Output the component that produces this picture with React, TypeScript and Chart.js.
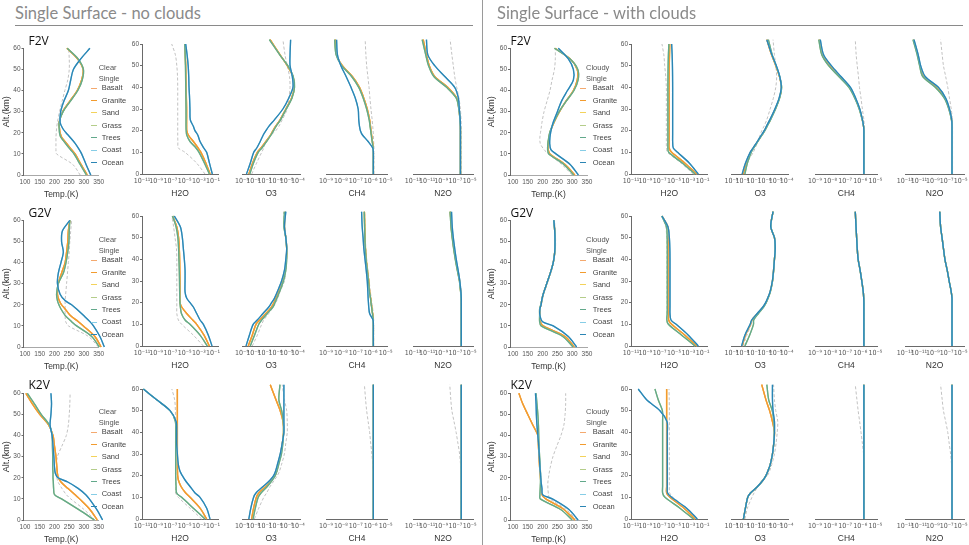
import React, { useEffect, useRef } from 'react';
import { Chart, registerables } from 'chart.js';
Chart.register(...registerables);

// ---------------- categories / labels ----------------
const SURFACES = ['Basalt', 'Granite', 'Sand', 'Grass', 'Trees', 'Coast', 'Ocean'];
const SURFACE_COLORS = ['#F4A96E', '#F29B2E', '#F3D25A', '#B4CD8A', '#62A98B', '#86CDE6', '#2B85B4'];
const SURFACE_GROUP = ['land', 'land', 'land', 'veg', 'veg', 'water', 'water'];
// painting order (lower = painted on top)
const SURFACE_ORDER = [6, 5, 7, 4, 3, 2, 1];
const STARS = ['F2V', 'G2V', 'K2V'];
const QUANTITIES = ['Temp.(K)', 'H2O', 'O3', 'CH4', 'N2O'];
const PANEL_TITLES = ['Single Surface - no clouds', 'Single Surface - with clouds'];
const LEGEND_TITLES = ['Clear', 'Cloudy'];
const LEGEND_SUBTITLE = 'Single';
const Y_TITLE = 'Alt.(km)';

// ---------------- tick labels ----------------
const TEMP_TICKS = [100, 150, 200, 250, 300, 350];
const ALT_TICKS = [0, 10, 20, 30, 40, 50, 60];
const H2O_TICKS = [-11, -9, -7, -5, -3, -1];
const O3_TICKS = [-9, -8, -7, -6, -5, -4];
const CH4_TICKS = [-9, -8, -7, -6, -5];
const N2O_TICKS = [-13, -11, -9, -7, -5];

// ---------------- altitude grids (km) ----------------
const ALT = [0, 5, 10, 12, 15, 18, 20, 22, 25, 30, 35, 40, 45, 50, 55, 60];
const ALT_HI = [0, 5, 10, 12, 15, 18, 20, 22, 25, 30, 35, 40, 45, 50, 55, 62];

// ======== CLEAR (left) ========
// F2V clear — temperature (K)
const F2V_CLR_T_LAND = [311, 290, 270, 258, 241, 224, 219, 217, 216, 228, 252, 277, 292, 297, 278, 242];
const F2V_CLR_T_VEG = [308, 287, 266, 254, 237, 221, 217, 216, 216, 229, 254, 279, 294, 298, 280, 243];
const F2V_CLR_T_WATER = [323, 307, 292, 284, 270, 252, 239, 228, 219, 221, 232, 247, 255, 264, 289, 320];
const F2V_CLR_T_REF = [287, 262, 207, 205, 205, 205, 206, 207, 210, 217, 226, 235, 245, 250, 250, 248];
// F2V clear — log10 mixing ratios
const F2V_CLR_H2O_LAND = [-1.42, -2.0, -2.7, -3.1, -3.77, -4.48, -4.7, -4.72, -4.72, -4.72, -4.75, -4.78, -4.82, -4.85, -4.9, -4.95];
const F2V_CLR_H2O_VEG = [-1.52, -2.2, -2.97, -3.4, -4.24, -4.7, -4.78, -4.8, -4.8, -4.8, -4.82, -4.84, -4.86, -4.88, -4.92, -4.97];
const F2V_CLR_H2O_WATER = [-1.1, -1.5, -1.9, -2.3, -2.83, -3.15, -3.54, -3.77, -4.2, -4.25, -4.3, -4.38, -4.42, -4.5, -4.65, -4.85];
const F2V_CLR_H2O_REF = [-2.13, -3.3, -4.94, -5.88, -5.95, -5.97, -5.97, -5.97, -5.97, -5.97, -5.97, -5.97, -6.0, -6.1, -6.3, -6.82];
const F2V_CLR_O3_LAND = [-8.39, -8.06, -7.63, -7.3, -6.86, -6.45, -6.23, -6.0, -5.59, -5.08, -4.57, -4.32, -4.44, -4.95, -5.59, -6.48];
const F2V_CLR_O3_VEG = [-8.3, -7.98, -7.55, -7.22, -6.8, -6.4, -6.18, -5.95, -5.55, -5.04, -4.53, -4.3, -4.42, -4.9, -5.62, -6.55];
const F2V_CLR_O3_WATER = [-8.6, -8.26, -7.95, -7.68, -7.37, -7.1, -6.86, -6.6, -6.1, -5.34, -4.82, -4.44, -4.5, -4.7, -4.7, -4.65];
const F2V_CLR_O3_REF = [-8.13, -7.7, -7.24, -7.05, -6.86, -6.4, -5.97, -5.7, -5.4, -4.95, -4.8, -4.7, -4.75, -4.95, -5.15, -5.34];
const F2V_CLR_CH4_LAND = [-5.82, -5.82, -5.82, -5.83, -5.88, -5.94, -5.98, -6.01, -6.07, -6.23, -6.46, -6.75, -7.23, -7.9, -8.29, -8.38];
const F2V_CLR_CH4_VEG = [-5.82, -5.82, -5.82, -5.83, -5.9, -5.96, -6.0, -6.04, -6.1, -6.27, -6.5, -6.8, -7.28, -7.95, -8.32, -8.42];
const F2V_CLR_CH4_WATER = [-5.82, -5.82, -5.82, -5.86, -6.17, -6.55, -6.69, -6.75, -6.8, -6.84, -7.03, -7.32, -7.65, -8.0, -8.23, -8.29];
const F2V_CLR_CH4_REF = [-5.78, -5.78, -5.78, -5.78, -5.8, -5.82, -5.84, -5.86, -5.9, -5.98, -6.05, -6.11, -6.19, -6.27, -6.32, -6.37];
const F2V_CLR_N2O_LAND = [-6.29, -6.29, -6.29, -6.29, -6.29, -6.29, -6.29, -6.3, -6.35, -6.5, -6.82, -8.1, -9.93, -10.7, -11.1, -11.55];
const F2V_CLR_N2O_VEG = [-6.29, -6.29, -6.29, -6.29, -6.29, -6.29, -6.29, -6.3, -6.36, -6.52, -6.88, -8.25, -10.05, -10.8, -11.2, -11.7];
const F2V_CLR_N2O_WATER = [-6.29, -6.29, -6.29, -6.29, -6.29, -6.29, -6.29, -6.29, -6.32, -6.45, -6.58, -7.1, -8.5, -9.93, -10.9, -11.1];
const F2V_CLR_N2O_REF = [-6.17, -6.17, -6.17, -6.17, -6.17, -6.17, -6.17, -6.18, -6.2, -6.3, -6.5, -6.82, -7.1, -7.3, -7.5, -7.75];

// G2V clear
const G2V_CLR_T_LAND = [358, 337, 298, 281, 253, 236, 224, 216, 210, 213, 224, 236, 241, 245, 247, 252];
const G2V_CLR_T_VEG = [352, 326, 275, 258, 236, 222, 215, 210, 207, 213, 230, 239, 245, 249, 250, 252];
const G2V_CLR_T_WATER = [369, 354, 332, 320, 298, 275, 258, 236, 219, 210, 213, 222, 230, 224, 227, 252];
const G2V_CLR_T_REF = [349, 315, 247, 238, 236, 236, 236, 236, 238, 241, 244, 247, 250, 252, 255, 258];
const G2V_CLR_H2O_LAND = [-1.52, -2.27, -3.3, -3.86, -4.71, -5.41, -5.65, -5.65, -5.65, -5.65, -5.68, -5.7, -5.75, -5.85, -6.1, -6.68];
const G2V_CLR_H2O_VEG = [-1.8, -2.83, -4.24, -4.94, -5.45, -5.6, -5.65, -5.68, -5.7, -5.72, -5.75, -5.8, -5.85, -5.95, -6.2, -6.7];
const G2V_CLR_H2O_WATER = [-1.14, -1.66, -2.36, -2.83, -3.3, -3.77, -4.24, -4.7, -4.94, -4.94, -4.94, -5.04, -5.18, -5.32, -5.6, -6.45];
const G2V_CLR_H2O_REF = [-2.36, -3.77, -5.41, -5.88, -6.1, -6.1, -6.1, -6.1, -6.1, -6.1, -6.1, -6.1, -6.15, -6.35, -6.55, -6.8];
const G2V_CLR_O3_LAND = [-8.44, -8.08, -7.75, -7.42, -6.86, -6.35, -6.15, -5.98, -5.72, -5.34, -5.13, -5.03, -5.0, -5.08, -5.2, -5.13];
const G2V_CLR_O3_VEG = [-8.26, -7.88, -7.5, -7.24, -6.74, -6.23, -6.05, -5.88, -5.64, -5.29, -5.08, -5.0, -5.0, -5.08, -5.25, -5.2];
const G2V_CLR_O3_WATER = [-8.64, -8.34, -8.0, -7.63, -7.12, -6.6, -6.35, -6.1, -5.84, -5.46, -5.2, -5.08, -5.0, -5.08, -5.2, -5.08];
const G2V_CLR_O3_REF = [-8.08, -7.63, -7.24, -7.05, -6.6, -6.2, -5.97, -5.8, -5.6, -5.2, -5.08, -5.0, -5.0, -5.03, -5.2, -5.28];
const G2V_CLR_CH4_LAND = [-5.82, -5.82, -5.82, -5.83, -5.87, -5.93, -5.97, -6.0, -6.07, -6.13, -6.22, -6.3, -6.35, -6.38, -6.4, -6.42];
const G2V_CLR_CH4_VEG = [-5.82, -5.82, -5.82, -5.83, -5.88, -5.94, -5.98, -6.01, -6.08, -6.15, -6.23, -6.31, -6.36, -6.39, -6.41, -6.43];
const G2V_CLR_CH4_WATER = [-5.82, -5.82, -5.82, -5.84, -6.07, -6.13, -6.15, -6.17, -6.19, -6.23, -6.3, -6.38, -6.46, -6.51, -6.57, -6.61];
const G2V_CLR_CH4_REF = [-5.8, -5.8, -5.8, -5.8, -5.83, -5.88, -5.92, -5.96, -6.02, -6.1, -6.18, -6.26, -6.32, -6.36, -6.38, -6.4];
const G2V_CLR_N2O_LAND = [-6.17, -6.17, -6.17, -6.17, -6.17, -6.17, -6.17, -6.18, -6.25, -6.41, -6.7, -6.98, -7.22, -7.42, -7.59, -7.72];
const G2V_CLR_N2O_VEG = [-6.17, -6.17, -6.17, -6.17, -6.17, -6.17, -6.17, -6.19, -6.27, -6.44, -6.74, -7.02, -7.26, -7.46, -7.62, -7.76];
const G2V_CLR_N2O_WATER = [-6.17, -6.17, -6.17, -6.17, -6.17, -6.17, -6.17, -6.17, -6.22, -6.38, -6.62, -6.88, -7.1, -7.3, -7.45, -7.55];
const G2V_CLR_N2O_REF = [-6.15, -6.15, -6.15, -6.15, -6.15, -6.15, -6.15, -6.15, -6.2, -6.35, -6.6, -6.9, -7.15, -7.35, -7.5, -7.65];

// K2V clear
const K2V_CLR_T_LAND = [345, 320, 285, 270, 245, 222, 213, 210, 208, 205, 200, 195, 180, 150, 125, 103];
const K2V_CLR_T_VEG = [335, 281, 224, 200, 197, 196, 195, 195, 194, 194, 193, 192, 183, 155, 132, 108];
const K2V_CLR_T_WATER = [363, 343, 318, 306, 280, 245, 212, 203, 200, 198, 195, 192, 185, 188, 190, 188];
const K2V_CLR_T_REF = [337, 300, 255, 240, 225, 212, 208, 207, 206, 210, 225, 240, 247, 250, 252, 253];
const K2V_CLR_H2O_LAND = [-1.89, -2.83, -4.24, -4.85, -5.51, -5.88, -5.98, -6.0, -6.02, -6.02, -6.02, -6.02, -6.02, -6.02, -6.02, -6.02];
const K2V_CLR_H2O_VEG = [-2.13, -3.77, -5.42, -6.12, -6.2, -6.24, -6.26, -6.26, -6.26, -6.26, -6.26, -6.26, -6.3, -7.05, -8.93, -10.8];
const K2V_CLR_H2O_WATER = [-1.42, -1.89, -2.83, -3.53, -4.24, -4.94, -5.32, -5.65, -5.88, -6.02, -6.12, -6.12, -6.2, -7.05, -8.93, -10.8];
const K2V_CLR_H2O_REF = [-2.6, -4.24, -5.88, -6.26, -6.26, -6.26, -6.26, -6.26, -6.26, -6.26, -6.26, -6.26, -6.28, -6.3, -6.4, -6.8];
const K2V_CLR_O3_LAND = [-8.14, -7.96, -7.71, -7.5, -6.87, -6.36, -6.05, -5.9, -5.77, -5.55, -5.39, -5.28, -5.33, -5.58, -5.96, -6.47];
const K2V_CLR_O3_VEG = [-8.01, -7.81, -7.55, -7.3, -6.74, -6.28, -6.03, -5.88, -5.72, -5.47, -5.34, -5.28, -5.3, -5.45, -5.7, -5.6];
const K2V_CLR_O3_WATER = [-8.39, -8.21, -7.96, -7.75, -7.11, -6.48, -6.17, -6.0, -5.84, -5.58, -5.4, -5.25, -5.25, -5.25, -5.25, -5.25];
const K2V_CLR_O3_REF = [-7.89, -7.5, -7.05, -6.8, -6.48, -6.1, -5.84, -5.65, -5.47, -5.21, -5.08, -4.95, -4.95, -5.0, -5.2, -5.4];
const K2V_CLR_CH4_ALL = [-5.82, -5.82, -5.82, -5.82, -5.82, -5.82, -5.82, -5.82, -5.82, -5.82, -5.82, -5.82, -5.82, -5.82, -5.82, -5.82];
const K2V_CLR_CH4_REF = [-5.82, -5.82, -5.82, -5.82, -5.82, -5.82, -5.82, -5.83, -5.86, -5.92, -6.0, -6.07, -6.17, -6.27, -6.34, -6.42];
const K2V_CLR_N2O_ALL = [-6.17, -6.17, -6.17, -6.17, -6.17, -6.17, -6.17, -6.17, -6.17, -6.17, -6.17, -6.17, -6.17, -6.17, -6.17, -6.17];
const K2V_CLR_N2O_REF = [-6.17, -6.17, -6.17, -6.17, -6.17, -6.17, -6.17, -6.2, -6.27, -6.41, -6.65, -6.9, -7.2, -7.5, -7.65, -7.8];

// ======== CLOUDY (right) ========
// F2V cloudy
const F2V_CLD_T_LAND = [309, 276, 225, 219, 219, 222, 225, 230, 239, 257, 279, 304, 317, 317, 293, 242];
const F2V_CLD_T_VEG = [305, 272, 221, 217, 218, 221, 224, 229, 238, 256, 280, 306, 320, 319, 292, 240];
const F2V_CLD_T_WATER = [321, 293, 245, 228, 224, 225, 227, 230, 236, 250, 264, 284, 304, 304, 287, 253];
const F2V_CLD_T_REF = [300, 265, 220, 205, 192, 191, 193, 195, 198, 205, 215, 225, 232, 240, 243, 243];
const F2V_CLD_H2O_LAND = [-1.84, -3.47, -5.33, -5.68, -5.68, -5.68, -5.68, -5.68, -5.68, -5.68, -5.68, -5.68, -5.67, -5.66, -5.63, -5.6];
const F2V_CLD_H2O_VEG = [-2.07, -3.8, -5.75, -5.85, -5.85, -5.85, -5.85, -5.85, -5.85, -5.85, -5.85, -5.85, -5.84, -5.82, -5.78, -5.72];
const F2V_CLD_H2O_WATER = [-1.61, -2.85, -4.5, -5.1, -5.19, -5.19, -5.19, -5.19, -5.19, -5.19, -5.19, -5.19, -5.2, -5.22, -5.26, -5.33];
const F2V_CLD_H2O_REF = [-2.3, -4.0, -5.9, -6.05, -6.07, -6.07, -6.07, -6.07, -6.07, -6.07, -6.07, -6.07, -6.15, -6.3, -6.42, -6.68];
const F2V_CLD_O3_LAND = [-7.91, -7.65, -7.27, -7.02, -6.63, -6.25, -6.0, -5.8, -5.49, -5.03, -4.65, -4.47, -4.65, -4.98, -5.36, -5.79];
const F2V_CLD_O3_VEG = [-7.78, -7.55, -7.2, -6.98, -6.6, -6.22, -5.97, -5.77, -5.46, -5.0, -4.63, -4.45, -4.63, -4.95, -5.3, -5.65];
const F2V_CLD_O3_WATER = [-8.03, -7.73, -7.3, -7.04, -6.65, -6.28, -6.03, -5.83, -5.52, -5.06, -4.68, -4.48, -4.62, -4.93, -5.33, -5.79];
const F2V_CLD_O3_REF = [-7.95, -7.6, -7.02, -6.85, -6.6, -6.4, -6.25, -6.05, -5.8, -5.49, -5.2, -4.98, -4.9, -4.98, -5.1, -5.23];
const F2V_CLD_CH4_LAND = [-5.76, -5.76, -5.76, -5.76, -5.76, -5.76, -5.76, -5.78, -5.86, -6.05, -6.33, -6.71, -7.38, -8.05, -8.52, -8.71];
const F2V_CLD_CH4_VEG = [-5.76, -5.76, -5.76, -5.76, -5.76, -5.76, -5.76, -5.78, -5.87, -6.07, -6.36, -6.75, -7.42, -8.1, -8.55, -8.75];
const F2V_CLD_CH4_WATER = [-5.76, -5.76, -5.76, -5.76, -5.76, -5.76, -5.76, -5.78, -5.85, -6.03, -6.3, -6.65, -7.28, -7.92, -8.43, -8.65];
const F2V_CLD_CH4_REF = [-5.73, -5.73, -5.73, -5.73, -5.73, -5.73, -5.73, -5.74, -5.76, -5.86, -5.95, -6.05, -6.12, -6.2, -6.27, -6.33];
const F2V_CLD_N2O_LAND = [-6.24, -6.24, -6.24, -6.24, -6.24, -6.24, -6.24, -6.24, -6.3, -6.65, -7.26, -8.5, -10.34, -10.83, -11.16, -11.77];
const F2V_CLD_N2O_VEG = [-6.24, -6.24, -6.24, -6.24, -6.24, -6.24, -6.24, -6.24, -6.32, -6.7, -7.35, -8.65, -10.45, -10.9, -11.25, -11.85];
const F2V_CLD_N2O_WATER = [-6.24, -6.24, -6.24, -6.24, -6.24, -6.24, -6.24, -6.24, -6.28, -6.6, -7.15, -8.2, -10.1, -10.75, -11.1, -11.7];
const F2V_CLD_N2O_REF = [-6.16, -6.16, -6.16, -6.16, -6.16, -6.16, -6.16, -6.16, -6.18, -6.35, -6.6, -6.85, -7.15, -7.47, -7.65, -7.88];

// G2V cloudy
const G2V_CLD_T_LAND = [307, 276, 202, 192, 191, 191, 195, 197, 202, 214, 226, 236, 241, 242, 241, 238];
const G2V_CLD_T_VEG = [303, 268, 195, 190, 190, 190, 194, 197, 202, 214, 226, 236, 241, 242, 241, 238];
const G2V_CLD_T_WATER = [315, 287, 236, 200, 191, 191, 195, 197, 202, 214, 226, 236, 241, 242, 241, 238];
const G2V_CLD_T_REF = [305, 270, 205, 194, 191, 191, 196, 199, 204, 216, 228, 238, 243, 244, 243, 240];
const G2V_CLD_H2O_LAND = [-1.84, -3.47, -5.33, -5.75, -5.72, -5.7, -5.7, -5.7, -5.7, -5.7, -5.7, -5.7, -5.7, -5.72, -5.85, -6.68];
const G2V_CLD_H2O_VEG = [-2.07, -3.93, -5.79, -6.0, -5.95, -5.93, -5.93, -5.93, -5.93, -5.93, -5.93, -5.93, -5.93, -5.95, -6.05, -6.7];
const G2V_CLD_H2O_WATER = [-1.61, -3.0, -4.7, -5.42, -5.56, -5.56, -5.56, -5.56, -5.56, -5.56, -5.56, -5.56, -5.58, -5.65, -5.85, -6.68];
const G2V_CLD_H2O_REF = [-2.1, -3.95, -5.8, -6.0, -6.0, -6.0, -6.0, -6.0, -6.0, -6.0, -6.0, -6.0, -6.0, -6.02, -6.15, -6.7];
const G2V_CLD_O3_LAND = [-8.03, -7.73, -7.27, -7.14, -6.63, -6.12, -5.87, -5.7, -5.49, -5.28, -5.18, -5.1, -5.03, -5.1, -5.44, -5.23];
const G2V_CLD_O3_VEG = [-7.78, -7.35, -7.0, -6.98, -6.55, -6.08, -5.85, -5.68, -5.47, -5.27, -5.17, -5.1, -5.03, -5.1, -5.42, -5.23];
const G2V_CLD_O3_WATER = [-8.08, -7.78, -7.3, -7.16, -6.66, -6.15, -5.9, -5.72, -5.5, -5.29, -5.18, -5.1, -5.03, -5.1, -5.44, -5.23];
const G2V_CLD_O3_REF = [-7.95, -7.6, -7.2, -7.08, -6.6, -6.1, -5.85, -5.68, -5.47, -5.26, -5.15, -5.08, -5.02, -5.08, -5.4, -5.2];
const G2V_CLD_CH4_ALL = [-5.76, -5.76, -5.76, -5.76, -5.76, -5.76, -5.76, -5.77, -5.8, -5.9, -6.01, -6.14, -6.2, -6.24, -6.28, -6.33];
const G2V_CLD_CH4_REF = [-5.74, -5.74, -5.74, -5.74, -5.74, -5.74, -5.74, -5.75, -5.78, -5.88, -5.99, -6.12, -6.18, -6.22, -6.26, -6.3];
const G2V_CLD_N2O_ALL = [-6.24, -6.24, -6.24, -6.24, -6.24, -6.24, -6.24, -6.24, -6.35, -6.65, -6.93, -7.26, -7.47, -7.67, -7.88, -8.0];
const G2V_CLD_N2O_REF = [-6.22, -6.22, -6.22, -6.22, -6.22, -6.22, -6.22, -6.22, -6.33, -6.62, -6.9, -7.22, -7.43, -7.63, -7.83, -7.95];

// K2V cloudy
const K2V_CLD_T_LAND = [309, 272, 211, 198, 196, 194, 193, 192, 190, 188, 186, 184, 167, 150, 133, 120];
const K2V_CLD_T_VEG = [300, 261, 192, 191, 192, 193, 193, 193, 192, 190, 188, 187, 186, 184, 181, 178];
const K2V_CLD_T_WATER = [320, 289, 233, 200, 198, 195, 194, 193, 191, 189, 187, 184, 181, 179, 178, 176];
const K2V_CLD_T_REF = [315, 280, 225, 220, 218, 218, 220, 222, 226, 235, 248, 262, 272, 276, 278, 278];
const K2V_CLD_H2O_LAND = [-2.07, -3.6, -5.56, -6.03, -6.03, -6.03, -6.03, -6.03, -6.03, -6.03, -6.03, -6.03, -6.03, -6.03, -6.03, -6.03];
const K2V_CLD_H2O_VEG = [-2.3, -4.17, -6.26, -6.59, -6.59, -6.59, -6.59, -6.59, -6.59, -6.59, -6.59, -6.59, -6.59, -6.62, -7.2, -7.66];
const K2V_CLD_H2O_WATER = [-1.75, -3.24, -5.33, -5.9, -5.93, -5.93, -5.93, -5.93, -5.93, -5.93, -5.93, -5.93, -5.98, -6.96, -8.82, -9.99];
const K2V_CLD_H2O_REF = [-1.9, -3.4, -5.1, -5.6, -5.65, -5.65, -5.65, -5.65, -5.65, -5.65, -5.65, -5.65, -5.65, -5.65, -5.67, -5.7];
const K2V_CLD_O3_LAND = [-7.91, -7.73, -7.52, -7.27, -6.63, -6.12, -5.87, -5.7, -5.49, -5.28, -5.16, -5.1, -5.28, -5.54, -5.87, -6.25];
const K2V_CLD_O3_VEG = [-7.91, -7.73, -7.52, -7.27, -6.63, -6.12, -5.87, -5.7, -5.49, -5.28, -5.16, -5.1, -5.15, -5.3, -5.62, -5.79];
const K2V_CLD_O3_WATER = [-7.91, -7.73, -7.52, -7.27, -6.63, -6.12, -5.87, -5.7, -5.49, -5.28, -5.16, -5.1, -5.1, -5.23, -5.28, -5.28];
const K2V_CLD_O3_REF = [-7.78, -7.55, -7.14, -6.95, -6.6, -6.2, -5.74, -5.55, -5.35, -5.1, -4.95, -4.85, -4.8, -4.98, -5.1, -5.18];
const K2V_CLD_CH4_ALL = [-5.76, -5.76, -5.76, -5.76, -5.76, -5.76, -5.76, -5.76, -5.76, -5.76, -5.76, -5.76, -5.76, -5.76, -5.76, -5.76];
const K2V_CLD_CH4_REF = [-5.76, -5.76, -5.76, -5.76, -5.76, -5.76, -5.76, -5.76, -5.76, -5.78, -5.86, -5.95, -6.04, -6.14, -6.22, -6.33];
const K2V_CLD_N2O_ALL = [-6.24, -6.24, -6.24, -6.24, -6.24, -6.24, -6.24, -6.24, -6.24, -6.24, -6.24, -6.24, -6.24, -6.24, -6.24, -6.24];
const K2V_CLD_N2O_REF = [-6.24, -6.24, -6.24, -6.24, -6.24, -6.24, -6.24, -6.24, -6.3, -6.44, -6.65, -6.85, -7.15, -7.47, -7.65, -7.88];

// ---------------- table built from the arrays ----------------
const P = (land, veg, water, ref) => ({ land, veg, water, ref });
const PROFILES = [
  [
    [P(F2V_CLR_T_LAND, F2V_CLR_T_VEG, F2V_CLR_T_WATER, F2V_CLR_T_REF), P(F2V_CLR_H2O_LAND, F2V_CLR_H2O_VEG, F2V_CLR_H2O_WATER, F2V_CLR_H2O_REF), P(F2V_CLR_O3_LAND, F2V_CLR_O3_VEG, F2V_CLR_O3_WATER, F2V_CLR_O3_REF), P(F2V_CLR_CH4_LAND, F2V_CLR_CH4_VEG, F2V_CLR_CH4_WATER, F2V_CLR_CH4_REF), P(F2V_CLR_N2O_LAND, F2V_CLR_N2O_VEG, F2V_CLR_N2O_WATER, F2V_CLR_N2O_REF)],
    [P(G2V_CLR_T_LAND, G2V_CLR_T_VEG, G2V_CLR_T_WATER, G2V_CLR_T_REF), P(G2V_CLR_H2O_LAND, G2V_CLR_H2O_VEG, G2V_CLR_H2O_WATER, G2V_CLR_H2O_REF), P(G2V_CLR_O3_LAND, G2V_CLR_O3_VEG, G2V_CLR_O3_WATER, G2V_CLR_O3_REF), P(G2V_CLR_CH4_LAND, G2V_CLR_CH4_VEG, G2V_CLR_CH4_WATER, G2V_CLR_CH4_REF), P(G2V_CLR_N2O_LAND, G2V_CLR_N2O_VEG, G2V_CLR_N2O_WATER, G2V_CLR_N2O_REF)],
    [P(K2V_CLR_T_LAND, K2V_CLR_T_VEG, K2V_CLR_T_WATER, K2V_CLR_T_REF), P(K2V_CLR_H2O_LAND, K2V_CLR_H2O_VEG, K2V_CLR_H2O_WATER, K2V_CLR_H2O_REF), P(K2V_CLR_O3_LAND, K2V_CLR_O3_VEG, K2V_CLR_O3_WATER, K2V_CLR_O3_REF), P(K2V_CLR_CH4_ALL, K2V_CLR_CH4_ALL, K2V_CLR_CH4_ALL, K2V_CLR_CH4_REF), P(K2V_CLR_N2O_ALL, K2V_CLR_N2O_ALL, K2V_CLR_N2O_ALL, K2V_CLR_N2O_REF)],
  ],
  [
    [P(F2V_CLD_T_LAND, F2V_CLD_T_VEG, F2V_CLD_T_WATER, F2V_CLD_T_REF), P(F2V_CLD_H2O_LAND, F2V_CLD_H2O_VEG, F2V_CLD_H2O_WATER, F2V_CLD_H2O_REF), P(F2V_CLD_O3_LAND, F2V_CLD_O3_VEG, F2V_CLD_O3_WATER, F2V_CLD_O3_REF), P(F2V_CLD_CH4_LAND, F2V_CLD_CH4_VEG, F2V_CLD_CH4_WATER, F2V_CLD_CH4_REF), P(F2V_CLD_N2O_LAND, F2V_CLD_N2O_VEG, F2V_CLD_N2O_WATER, F2V_CLD_N2O_REF)],
    [P(G2V_CLD_T_LAND, G2V_CLD_T_VEG, G2V_CLD_T_WATER, G2V_CLD_T_REF), P(G2V_CLD_H2O_LAND, G2V_CLD_H2O_VEG, G2V_CLD_H2O_WATER, G2V_CLD_H2O_REF), P(G2V_CLD_O3_LAND, G2V_CLD_O3_VEG, G2V_CLD_O3_WATER, G2V_CLD_O3_REF), P(G2V_CLD_CH4_ALL, G2V_CLD_CH4_ALL, G2V_CLD_CH4_ALL, G2V_CLD_CH4_REF), P(G2V_CLD_N2O_ALL, G2V_CLD_N2O_ALL, G2V_CLD_N2O_ALL, G2V_CLD_N2O_REF)],
    [P(K2V_CLD_T_LAND, K2V_CLD_T_VEG, K2V_CLD_T_WATER, K2V_CLD_T_REF), P(K2V_CLD_H2O_LAND, K2V_CLD_H2O_VEG, K2V_CLD_H2O_WATER, K2V_CLD_H2O_REF), P(K2V_CLD_O3_LAND, K2V_CLD_O3_VEG, K2V_CLD_O3_WATER, K2V_CLD_O3_REF), P(K2V_CLD_CH4_ALL, K2V_CLD_CH4_ALL, K2V_CLD_CH4_ALL, K2V_CLD_CH4_REF), P(K2V_CLD_N2O_ALL, K2V_CLD_N2O_ALL, K2V_CLD_N2O_ALL, K2V_CLD_N2O_REF)],
  ],
];

// ---------------- layout ----------------
const FONT = '"Liberation Sans", Arial, sans-serif';
const TICK_FONT = '"DejaVu Sans Condensed", "DejaVu Sans", sans-serif';
const TICK_COLOR = '#555';
const AXIS_COLOR = '#6a6a6a';
const REF_COLOR = '#c2c2c2';
const ROW_TEMP_BOTTOM = [175, 347, 520];
const ROW_LOG_BOTTOM = [174, 346, 519];
const ROW_OFFSET = [0, 172, 344];
const TEMP_PX_PER_KM = 126.7 / 60;
const LOG_PX_PER_KM = 130 / 60;
const LOG_RANGES = [null, [-11, -0.3], [-9, -3.8], [-9, -4.85], [-13, -4.5]];
const LOG_TICKS = [null, H2O_TICKS, O3_TICKS, CH4_TICKS, N2O_TICKS];
const COLS = [
  [{ L: 23.5, R: 98.75, min: 95, max: 350 }, { L: 142, R: 218 }, { L: 232, R: 300.1 }, { L: 316, R: 387.8 }, { L: 403, R: 473.1 }],
  [{ L: 510, R: 587, min: 90, max: 350 }, { L: 631, R: 707.7 }, { L: 720.7, R: 788.8 }, { L: 805, R: 877.6 }, { L: 895, R: 964.1 }],
];
const PANEL_X = [15, 497];
const PANEL_RULE_END = [472.7, 963];
const LEGEND_X = [90.7, 580];

const SUP = { '-': '\u207B', '0': '\u2070', '1': '\u00B9', '2': '\u00B2', '3': '\u00B3', '4': '\u2074', '5': '\u2075', '6': '\u2076', '7': '\u2077', '8': '\u2078', '9': '\u2079' };
const pow10Label = (e) => '10' + String(e).split('').map((c) => SUP[c]).join('');

function geometry(panel, row, col) {
  const isTemp = col === 0;
  const c = COLS[panel][col];
  const B = isTemp ? ROW_TEMP_BOTTOM[row] : ROW_LOG_BOTTOM[row];
  const yMax = col <= 1 ? 60 : 62.5;
  const pxKm = isTemp ? TEMP_PX_PER_KM : LOG_PX_PER_KM;
  const T = B - yMax * pxKm;
  const wantL = isTemp ? (panel === 0 ? 23 : 25) : col === 1 ? 16 : 10;
  const wantR = isTemp ? 12 : 10;
  const left = Math.floor(c.L - wantL);
  const right = Math.ceil(c.R + wantR);
  const top = Math.floor(T - 8);
  const bottom = Math.ceil(B + 26);
  return {
    left, top, width: right - left, height: bottom - top,
    padL: c.L - left, padR: right - c.R, padT: T - top, padB: bottom - B, yMax,
  };
}

function buildConfig(panel, row, col) {
  const isTemp = col === 0;
  const g = geometry(panel, row, col);
  const c = COLS[panel][col];
  const prof = PROFILES[panel][row][col];
  const alts = col <= 1 ? ALT : ALT_HI;
  const conv = isTemp ? (v) => v : (e) => Math.pow(10, e);
  const toPts = (arr) => arr.map((v, i) => ({ x: conv(v), y: alts[i] }));
  const showY = col <= 1;

  const datasets = [
    {
      label: 'reference', data: toPts(prof.ref), borderColor: REF_COLOR, borderWidth: 1,
      borderDash: [3, 2], showLine: true, pointRadius: 0, tension: 0.3, clip: false, order: 20,
    },
    ...SURFACES.map((s, i) => ({
      label: s, data: toPts(prof[SURFACE_GROUP[i]]), borderColor: SURFACE_COLORS[i], borderWidth: 1.35,
      showLine: true, pointRadius: 0, tension: 0.3, clip: false, order: SURFACE_ORDER[i],
    })),
  ];

  const xTicks = isTemp ? TEMP_TICKS : LOG_TICKS[col].map((e) => Math.pow(10, e));
  return {
    type: 'scatter',
    data: { datasets },
    options: {
      responsive: false,
      animation: false,
      events: [],
      layout: { padding: { left: showY ? 0 : g.padL, right: g.padR, top: g.padT, bottom: 0 } },
      plugins: { legend: { display: false }, tooltip: { enabled: false } },
      scales: {
        x: {
          type: isTemp ? 'linear' : 'logarithmic',
          position: 'bottom',
          min: isTemp ? c.min : Math.pow(10, LOG_RANGES[col][0]),
          max: isTemp ? c.max : Math.pow(10, LOG_RANGES[col][1]),
          afterBuildTicks: (s) => { s.ticks = xTicks.map((v) => ({ value: v })); },
          afterFit: (s) => { s.height = g.padB; },
          ticks: {
            autoSkip: false, maxRotation: 0, minRotation: 0, padding: 3,
            font: { family: isTemp ? FONT : TICK_FONT, size: isTemp ? 6.5 : 7 }, color: TICK_COLOR,
            callback: (v) => (isTemp ? String(v) : pow10Label(Math.round(Math.log10(v)))),
          },
          grid: { display: false, drawTicks: false },
          border: isTemp
            ? { display: true, color: '#a8a8a8', width: 1, dash: [2, 2] }
            : { display: true, color: AXIS_COLOR, width: 1 },
          title: {
            display: true, text: QUANTITIES[col], color: '#333',
            font: { family: FONT, size: 8.5 }, padding: { top: 0, bottom: 1 },
          },
        },
        y: {
          type: 'linear', min: 0, max: g.yMax, display: showY,
          afterBuildTicks: (s) => { s.ticks = ALT_TICKS.map((v) => ({ value: v })); },
          afterFit: (s) => { s.width = g.padL; },
          ticks: { padding: 1, font: { family: FONT, size: 6.5 }, color: TICK_COLOR },
          grid: { display: true, drawOnChartArea: false, drawTicks: true, tickLength: 2, color: AXIS_COLOR },
          border: { display: true, color: AXIS_COLOR, width: 1 },
          title: isTemp
            ? { display: true, text: Y_TITLE, color: '#333', font: { family: FONT, size: 9 }, padding: { top: 1, bottom: 0 } }
            : { display: false },
        },
      },
    },
  };
}

function Subplot({ panel, row, col }) {
  const ref = useRef(null);
  const g = geometry(panel, row, col);
  useEffect(() => {
    const chart = new Chart(ref.current, buildConfig(panel, row, col));
    return () => chart.destroy();
  }, [panel, row, col]);
  return (
    <canvas
      ref={ref}
      width={g.width}
      height={g.height}
      style={{ position: 'absolute', left: g.left, top: g.top, width: g.width, height: g.height }}
    />
  );
}

function Legend({ panel, row }) {
  const x = LEGEND_X[panel];
  const dy = ROW_OFFSET[row];
  const txt = { position: 'absolute', font: `7.5px ${FONT}`, color: '#444', lineHeight: '10px', height: 10, whiteSpace: 'nowrap' };
  return (
    <>
      <div style={{ ...txt, left: x + (panel === 0 ? 8 : 6), top: 68 + dy - 5, color: '#555' }}>{LEGEND_TITLES[panel]}</div>
      <div style={{ ...txt, left: x + (panel === 0 ? 8 : 6), top: 79 + dy - 5, color: '#555' }}>{LEGEND_SUBTITLE}</div>
      {SURFACES.map((s, i) => {
        const cy = 88.3 + 12.4 * i + dy;
        return (
          <React.Fragment key={s}>
            <div style={{ position: 'absolute', left: x, top: cy - 0.75, width: 6, height: 0, borderTop: `1.5px solid ${SURFACE_COLORS[i]}` }} />
            <div style={{ ...txt, left: x + (panel === 0 ? 11 : 12.7), top: cy - 5 }}>{s}</div>
          </React.Fragment>
        );
      })}
    </>
  );
}

export default function App() {
  const items = [];
  [0, 1].forEach((panel) => {
    [0, 1, 2].forEach((row) => {
      [0, 1, 2, 3, 4].forEach((col) => {
        items.push(<Subplot key={`c-${panel}-${row}-${col}`} panel={panel} row={row} col={col} />);
      });
      items.push(<Legend key={`l-${panel}-${row}`} panel={panel} row={row} />);
      items.push(
        <div key={`s-${panel}-${row}`} style={{ position: 'absolute', left: PANEL_X[panel] + 13.5, top: 34 + ROW_OFFSET[row], font: `12px "Open Sans", ${FONT}`, color: '#111', lineHeight: '14px' }}>
          {STARS[row]}
        </div>
      );
    });
    items.push(
      <div key={`t-${panel}`} style={{ position: 'absolute', left: PANEL_X[panel], top: 3, font: `16.5px Lato, ${FONT}`, color: '#8a8a8a', lineHeight: '20px', whiteSpace: 'nowrap' }}>
        {PANEL_TITLES[panel]}
      </div>
    );
    items.push(
      <div key={`u-${panel}`} style={{ position: 'absolute', left: PANEL_X[panel], top: 25, width: PANEL_RULE_END[panel] - PANEL_X[panel], height: 1, background: '#8a8a8a' }} />
    );
  });
  return (
    <div style={{ position: 'absolute', left: 0, top: 0, width: 969, height: 545, overflow: 'hidden', background: '#fff' }}>
      <div style={{ position: 'absolute', left: 482, top: 0, width: 1.3, height: 545, background: '#9a9a9a' }} />
      {items}
    </div>
  );
}
